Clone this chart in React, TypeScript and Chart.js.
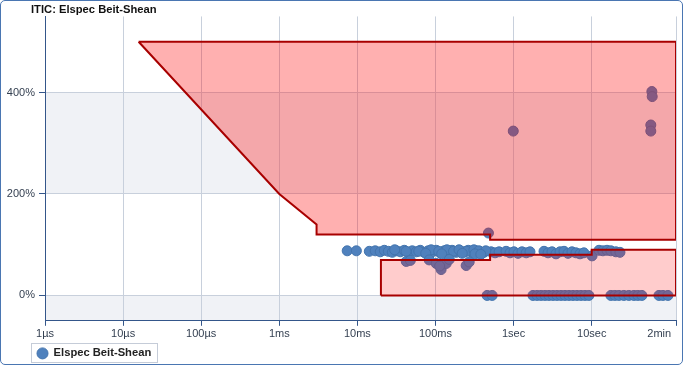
import React, { useEffect, useRef } from 'react';
import { Chart, registerables } from 'chart.js';

Chart.register(...registerables);

const chartTitle = 'ITIC: Elspec Beit-Shean';
const seriesName = 'Elspec Beit-Shean';

const xTickValues = [1e-6, 1e-5, 1e-4, 1e-3, 1e-2, 0.1, 1, 10, 120];
const xTickLabels = ['1µs', '10µs', '100µs', '1ms', '10ms', '100ms', '1sec', '10sec', '2min'];
const yTickValues = [0, 200, 400];
const yTickSuffix = '%';
const bandRanges = [
  [-50, 0],
  [200, 400],
];

// ITIC envelope (time in seconds, level in %)
const upperCurveTimes = [1.58e-5, 0.001, 0.003, 0.003, 0.5, 0.5, 120, 120, 1.58e-5];
const upperCurveLevels = [500, 200, 140, 120, 120, 110, 110, 500, 500];
const lowerCurveTimes = [0.02, 0.02, 0.5, 0.5, 10, 10, 120, 120, 0.02];
const lowerCurveLevels = [0, 70, 70, 80, 80, 90, 90, 0, 0];

// measured events (duration in seconds, level in %)
const eventTimes = [
  0.0074, 0.0097, 0.0142, 0.0169, 0.0196, 0.0221, 0.0249, 0.028, 0.0315, 0.0354,
  0.0398, 0.0448, 0.0504, 0.0566, 0.0637, 0.0716, 0.0805, 0.0908, 0.102, 0.115,
  0.129, 0.145, 0.163, 0.184, 0.207, 0.233, 0.262, 0.294, 0.331, 0.372,
  0.419, 0.515, 0.579, 0.652, 0.801, 0.9, 1.01, 1.14, 1.28, 1.45,
  1.62, 2.45, 2.76, 3.1, 3.49, 3.93, 4.42, 4.97, 5.59, 6.29,
  7.08, 7.94, 10.1, 12.4, 13.9, 15.7, 17.6, 20.4, 23.0,
  0.03, 0.042, 0.061, 0.088, 0.11, 0.14, 0.17, 0.2, 0.25, 0.31, 0.36, 0.44,
  0.075, 0.12, 0.22, 0.32, 0.38,
  0.0422, 0.0476, 0.083, 0.102, 0.118, 0.137, 0.15, 0.113, 0.247, 0.27,
  0.458, 0.531, 1.77, 2.0, 2.25, 2.53, 2.84, 3.2, 3.6, 4.05, 4.55, 5.12, 5.76,
  6.48, 7.29, 8.2, 9.2, 17.6, 19.8, 22.3, 25.8, 29.9, 34.7, 39, 43.9, 72.6, 81.7, 94.6,
  0.476, 0.99, 58.9, 59.5, 57.1, 57.1,
];
const eventLevels = [
  88, 88, 87, 88, 86, 89, 87, 85, 88, 86,
  89, 85, 88, 86, 89, 85, 88, 86, 89, 84,
  88, 86, 89, 85, 88, 86, 89, 85, 88, 86,
  85, 86, 84, 86, 87, 84, 86, 83, 86, 84,
  86, 87, 84, 86, 82, 86, 87, 83, 86, 84,
  82, 84, 78, 89, 88, 89, 88, 86, 85,
  90, 87, 87, 90, 87, 90, 87, 90, 87, 90, 88, 88,
  83, 82, 83, 82, 81,
  67, 69, 70, 63, 51, 63, 71, 58, 59, 66,
  0, 0, 0, 0, 0, 0, 0, 0, 0, 0, 0, 0, 0,
  0, 0, 0, 0, 0, 0, 0, 0, 0, 0, 0, 0, 0, 0, 0,
  123, 324, 402, 392, 336, 324,
];

const FONT = '"Liberation Sans", Arial, sans-serif';

const bandPlugin = {
  id: 'bands',
  afterLayout(chart: any) {
    // let the y-axis labels use the space left of the narrow axis box
    if (chart.scales.y) chart.scales.y.left = 0;
  },
  beforeDraw(chart: any) {
    const { ctx, chartArea, scales } = chart;
    const y = scales.y;
    ctx.save();
    ctx.fillStyle = '#f0f2f6';
    bandRanges.forEach(([a, b]) => {
      const top = y.getPixelForValue(b);
      const bottom = y.getPixelForValue(a);
      ctx.fillRect(chartArea.left, top, chartArea.right - chartArea.left, bottom - top);
    });
    ctx.restore();
  },
};

const legendFramePlugin = {
  id: 'legendFrame',
  afterDraw(chart: any) {
    const hb = chart.legend && chart.legend.legendHitBoxes && chart.legend.legendHitBoxes[0];
    if (!hb) return;
    const ctx = chart.ctx;
    ctx.save();
    ctx.strokeStyle = '#c5ccd8';
    ctx.lineWidth = 1;
    const l = Math.round(hb.left - 6) + 0.5;
    const t = Math.round(hb.top - 5) + 0.5;
    const r = Math.round(hb.left + hb.width + 6) + 0.5;
    const b = Math.round(hb.top + hb.height + 3) + 0.5;
    ctx.strokeRect(l, t, r - l, b - t);
    ctx.restore();
  },
};

export default function App() {
  const ref = useRef<HTMLCanvasElement | null>(null);

  useEffect(() => {
    document.body.style.margin = '0';
    const canvas = ref.current;
    if (!canvas) return;

    const upper = upperCurveTimes.map((t, i) => ({ x: t, y: upperCurveLevels[i] }));
    const lower = lowerCurveTimes.map((t, i) => ({ x: t, y: lowerCurveLevels[i] }));
    const events = eventTimes.map((t, i) => ({ x: t, y: eventLevels[i] }));

    const chart = new Chart(canvas, {
      type: 'scatter',
      data: {
        datasets: [
          {
            label: 'ITIC upper',
            data: upper,
            showLine: true,
            fill: 'shape',
            backgroundColor: 'rgba(255,0,0,0.31)',
            borderColor: '#a80000',
            borderWidth: 2,
            pointRadius: 0,
            pointHoverRadius: 0,
            tension: 0,
            borderJoinStyle: 'miter',
          } as any,
          {
            label: 'ITIC lower',
            data: lower,
            showLine: true,
            fill: 'shape',
            backgroundColor: 'rgba(255,0,0,0.2)',
            borderColor: '#a80000',
            borderWidth: 2,
            pointRadius: 0,
            pointHoverRadius: 0,
            tension: 0,
            borderJoinStyle: 'miter',
          } as any,
          {
            label: seriesName,
            data: events,
            backgroundColor: '#4f81bd',
            borderColor: '#4374ad',
            borderWidth: 1,
            pointRadius: 5,
            pointStyle: 'circle',
          },
        ],
      },
      options: {
        responsive: false,
        animation: false,
        devicePixelRatio: 1,
        layout: { padding: { left: 30, right: 5, top: 0, bottom: -5 } },
        scales: {
          x: {
            type: 'logarithmic',
            min: 1e-6,
            max: 120,
            afterBuildTicks: (s: any) => {
              s.ticks = xTickValues.map((v) => ({ value: v }));
            },
            afterFit: (s: any) => {
              s.height = 21;
              s.paddingLeft = 0;
              s.paddingRight = 0;
            },
            ticks: {
              autoSkip: false,
              maxRotation: 0,
              minRotation: 0,
              padding: 2,
              color: '#333f50',
              font: { family: FONT, size: 11 },
              callback: (_v: any, i: number) =>
                i === xTickLabels.length - 1 ? xTickLabels[i] + '\u00a0'.repeat(11) : xTickLabels[i],
            },
            grid: { color: '#c8d0dc', tickColor: '#34568a', tickLength: 5, lineWidth: 1 },
            border: { color: '#34568a', width: 1 },
          },
          y: {
            type: 'linear',
            min: -50,
            max: 550,
            afterBuildTicks: (s: any) => {
              s.ticks = yTickValues.map((v) => ({ value: v }));
            },
            afterFit: (s: any) => {
              s.width = 14;
            },
            ticks: {
              padding: 4,
              color: '#333f50',
              font: { family: FONT, size: 11 },
              callback: (v: any) => v + yTickSuffix,
            },
            grid: { color: '#c8d0dc', tickColor: '#34568a', tickLength: 6, lineWidth: 1 },
            border: { color: '#34568a', width: 1 },
          },
        },
        plugins: {
          title: {
            display: true,
            text: chartTitle,
            align: 'start',
            color: '#111111',
            font: { family: FONT, size: 11.2, weight: 'bold' },
            padding: { top: 2, bottom: 0 },
          },
          legend: {
            display: true,
            position: 'bottom',
            align: 'start',
            labels: {
              usePointStyle: true,
              boxWidth: 11,
              boxHeight: 7.8,
              padding: 6,
              color: '#222222',
              font: { family: FONT, size: 11.2, weight: 'bold' },
              filter: (item: any) => item.text === seriesName,
            },
          },
          tooltip: { enabled: false },
        },
      } as any,
      plugins: [bandPlugin, legendFramePlugin],
    });

    return () => chart.destroy();
  }, []);

  return (
    <div
      style={{
        position: 'relative',
        width: 683,
        height: 365,
        boxSizing: 'border-box',
        border: '1px solid #4a76b2',
        borderRadius: 5,
        overflow: 'hidden',
        background: '#ffffff',
      }}
    >
      <canvas ref={ref} width={681} height={363} style={{ display: 'block', width: 681, height: 363 }} />
    </div>
  );
}
